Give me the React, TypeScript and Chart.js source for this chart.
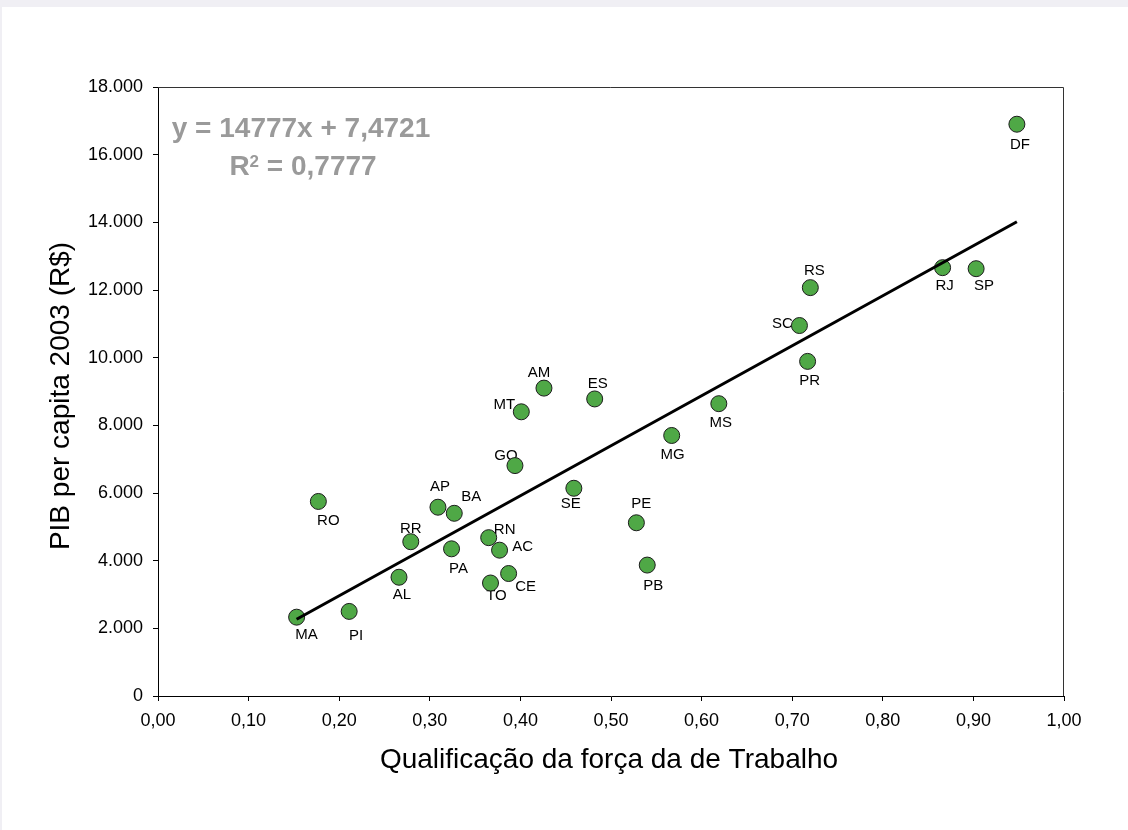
import React, { useEffect, useRef } from "react";
import { Chart, registerables } from "chart.js";

Chart.register(...registerables);

// ---- Data ----
const states = ["MA","PI","AL","RO","RR","AP","BA","PA","RN","AC","TO","CE","GO","MT","AM","ES","SE","PE","PB","MG","MS","SC","RS","PR","RJ","SP","DF"];
const qualificacao = [0.153,0.211,0.266,0.177,0.279,0.309,0.327,0.324,0.365,0.377,0.367,0.387,0.394,0.401,0.426,0.482,0.459,0.528,0.540,0.567,0.619,0.708,0.720,0.717,0.866,0.903,0.948];
const pibPerCapita = [2330,2500,3510,5750,4560,5580,5400,4350,4680,4310,3340,3620,6810,8400,9100,8780,6140,5120,3870,7700,8640,10950,12070,9890,12660,12630,16900];

// regression shown on chart
const slope = 14777;
const intercept = 7.4721;
const equationText = "y = 14777x + 7,4721";
const r2Text = "0,7777";

const xTicks = [0,0.1,0.2,0.3,0.4,0.5,0.6,0.7,0.8,0.9,1.0];
const yTicks = [0,2000,4000,6000,8000,10000,12000,14000,16000,18000];

const xTitle = "Qualificação da força da de Trabalho";
const yTitle = "PIB per capita 2003 (R$)";

// label placement offsets (styling, px)
const labelDx = [10,7,3,10,0,2,17,7,16,23,6,17,-9,-17,-5,3,-3,5,6,1,2,-17,4,2,2,8,3];
const labelDy = [18,24,18,19,-13,-20,-16,20,-8,-3,13,13,-10,-7,-15,-15,16,-19,21,19,19,-2,-17,19,18,17,21];

const FONT = 'Arial, "Liberation Sans", sans-serif';

export default function App() {
  const ref = useRef<HTMLCanvasElement | null>(null);

  useEffect(() => {
    const canvas = ref.current;
    if (!canvas) return;
    const xMin = Math.min(...qualificacao);
    const xMax = Math.max(...qualificacao);
    const trend = [
      { x: xMin, y: slope * xMin + intercept },
      { x: xMax, y: slope * xMax + intercept },
    ];
    const points = qualificacao.map((x, i) => ({ x, y: pibPerCapita[i] }));

    const overlay = {
      id: "overlay",
      beforeDatasetsDraw(chart: any) {
        const ctx = chart.ctx;
        const meta = chart.getDatasetMeta(1);
        ctx.save();
        ctx.font = `15px ${FONT}`;
        ctx.fillStyle = "#000";
        ctx.textAlign = "center";
        ctx.textBaseline = "middle";
        meta.data.forEach((el: any, i: number) => {
          ctx.fillText(states[i], el.x + labelDx[i], el.y + labelDy[i]);
        });
        ctx.restore();
      },
      afterDraw(chart: any) {
        const ctx = chart.ctx;
        const a = chart.chartArea;
        ctx.save();
        // frame
        ctx.strokeStyle = "#333";
        ctx.lineWidth = 1;
        ctx.beginPath();
        ctx.moveTo(a.left, a.top + 0.5);
        ctx.lineTo(a.right - 0.5, a.top + 0.5);
        ctx.lineTo(a.right - 0.5, a.bottom);
        ctx.stroke();
        // equation
        ctx.fillStyle = "#9a9a9a";
        ctx.font = `bold 28px ${FONT}`;
        ctx.textAlign = "center";
        ctx.textBaseline = "alphabetic";
        const cx = 301;
        ctx.fillText(equationText, cx, 137);
        // R^2 line
        const big = `bold 28px ${FONT}`;
        const small = `bold 17px ${FONT}`;
        ctx.font = big;
        const wR = ctx.measureText("R").width;
        const wRest = ctx.measureText(" = " + r2Text).width;
        ctx.font = small;
        const w2 = ctx.measureText("2").width;
        const total = wR + w2 + wRest;
        const x0 = cx - total / 2 + 2;
        ctx.textAlign = "left";
        ctx.font = big;
        ctx.fillText("R", x0, 175);
        ctx.font = small;
        ctx.fillText("2", x0 + wR, 167);
        ctx.font = big;
        ctx.fillText(" = " + r2Text, x0 + wR + w2, 175);
        // axis titles
        ctx.fillStyle = "#000";
        ctx.font = `28px ${FONT}`;
        ctx.textAlign = "center";
        ctx.textBaseline = "middle";
        ctx.fillText(xTitle, (a.left + a.right) / 2 - 2, 760);
        ctx.translate(61, 396);
        ctx.rotate(-Math.PI / 2);
        ctx.fillText(yTitle, 0, 0);
        ctx.restore();
      },
    };

    const chart = new Chart(canvas, {
      type: "scatter",
      data: {
        datasets: [
          {
            type: "line",
            data: trend,
            borderColor: "#000",
            borderWidth: 3,
            pointRadius: 0,
            fill: false,
            order: 0,
          } as any,
          {
            type: "scatter",
            data: points,
            backgroundColor: "#4fa846",
            borderColor: "#1c1c1c",
            borderWidth: 1,
            pointRadius: 8,
            order: 1,
          },
        ],
      },
      options: {
        responsive: false,
        animation: false,
        layout: { padding: { left: 0, top: 87, right: 64, bottom: 0 } },
        plugins: { legend: { display: false }, tooltip: { enabled: false } },
        scales: {
          x: {
            type: "linear",
            min: 0,
            max: 1,
            afterFit(scale: any) { scale.height = 134; },
            afterBuildTicks(scale: any) { scale.ticks = xTicks.map((v) => ({ value: v })); },
            ticks: {
              color: "#000",
              font: { family: FONT, size: 18 },
              padding: 9,
              maxRotation: 0,
              callback: (v: any) => Number(v).toFixed(2).replace(".", ","),
            },
            grid: { drawOnChartArea: false, drawTicks: true, tickLength: 5, color: "#000" },
            border: { display: true, color: "#000", width: 1 },
          },
          y: {
            type: "linear",
            min: 0,
            max: 18000,
            afterFit(scale: any) { scale.width = 158; },
            afterBuildTicks(scale: any) { scale.ticks = yTicks.map((v) => ({ value: v })); },
            ticks: {
              color: "#000",
              font: { family: FONT, size: 18 },
              padding: 10,
              callback: (v: any) => (Number(v) === 0 ? "0" : Math.round(Number(v) / 1000) + ".000"),
            },
            grid: { drawOnChartArea: false, drawTicks: true, tickLength: 5, color: "#000" },
            border: { display: true, color: "#000", width: 1 },
          },
        },
      },
      plugins: [overlay],
    });
    return () => chart.destroy();
  }, []);

  return (
    <div style={{ position: "fixed", left: 0, top: 0, width: 1128, height: 830, background: "#f0eff4" }}>
      <div style={{ position: "absolute", left: 2, top: 7, right: 0, bottom: 0, background: "#fff" }} />
      <canvas ref={ref} width={1128} height={830} style={{ position: "absolute", left: 0, top: 0, width: 1128, height: 830 }} />
    </div>
  );
}
